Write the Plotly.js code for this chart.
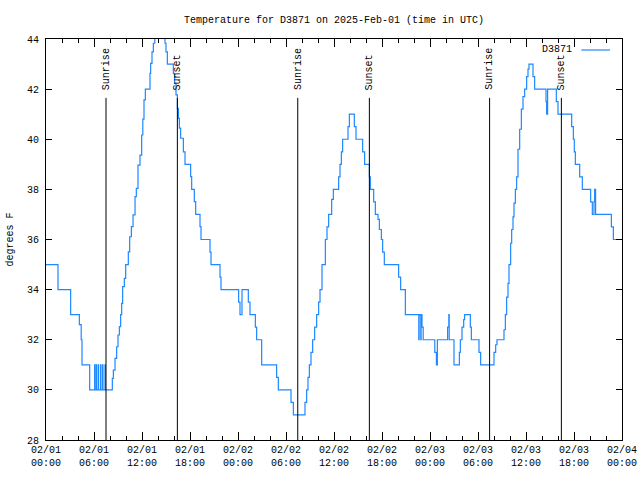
<!DOCTYPE html>
<html>
<head>
<meta charset="utf-8">
<script src="https://cdn.plot.ly/plotly-3.0.1.min.js"></script>
<style>html,body{margin:0;padding:0;background:#fff;}#chart{width:640px;height:480px;}</style>
</head>
<body>
<div id="chart"></div>
<script>
// Hours since 2025-02-01 00:00 UTC at which the reading changed
var hours = [0,1.5,3.08,4.17,4.4,4.5,5.46,6.08,6.12,6.29,6.33,6.54,6.58,6.83,6.87,7.08,7.12,7.375,7.42,
  8.29,8.42,8.63,8.83,9.0,9.17,9.33,9.46,9.58,9.79,9.96,10.29,10.46,10.67,10.88,11.13,11.29,11.5,11.75,11.96,
  12.1,12.25,12.42,13.0,13.08,13.25,13.42,13.6,14.875,15.0,15.17,15.92,16.08,16.25,16.42,16.55,16.67,16.83,
  17.17,17.375,18.08,18.21,18.54,18.71,19.25,19.375,20.5,20.625,21.75,21.875,
  24.08,24.25,24.5,25.29,25.5,26.17,26.33,26.96,28.83,29.04,30.625,30.92,32.375,32.58,32.75,32.92,33.125,33.33,
  33.58,33.83,34.08,34.25,34.5,34.92,35.125,35.33,35.71,35.92,36.58,36.75,36.92,37.08,37.75,37.92,38.54,38.75,
  39.58,39.83,40.42,40.54,40.96,41.17,41.5,41.67,41.92,42.08,42.29,44.08,44.33,44.92,46.6,46.64,46.85,46.89,47.0,
  47.15,48.6,48.8,48.92,50.2,50.35,50.4,51.0,51.67,51.79,52.0,52.21,52.33,53.04,53.17,54.125,54.33,56.0,56.21,
  56.375,57.25,57.42,57.58,57.75,57.875,58.08,58.21,58.375,58.5,58.67,58.83,59.0,59.21,59.42,59.625,59.83,60.08,
  60.25,60.375,60.875,61.08,62.5,62.58,62.7,63.79,64.0,65.71,65.92,66.04,66.17,66.71,67.04,68.08,68.29,68.5,
  68.58,68.7,70.67,70.92,72.0];
// Temperature (degrees F) from that moment on
var tempF = [35,34,33,32.6,32,31,30,31,30,31,30,31,30,31,30,31,30,31,30,
  30.46,30.79,31.26,31.72,32.19,32.52,33.0,33.45,34.12,34.45,35.0,35.51,36.11,36.51,36.98,37.71,38.04,38.97,39.37,40.17,
  40.8,41.57,42.0,42.63,43.03,43.49,43.83,44.3,43.83,43.49,43.0,42.63,42.23,41.77,41.23,40.83,40.44,40.04,
  39.5,39.0,38.51,38.0,37.51,37.0,36.51,36.0,35.5,35.0,34.5,34.0,
  33.5,33.0,34.0,33.5,33.0,32.5,32.0,31.0,30.5,30.0,29.5,29.0,29.5,30.0,30.5,31.0,31.5,32.0,
  32.5,33.0,33.5,34.0,35.0,36.0,36.5,37.0,37.6,38.0,38.5,39.0,39.5,40.0,40.5,41.0,40.5,40.0,
  39.5,39.0,38.5,38.0,37.5,37.0,36.8,36.4,36.0,35.5,35.0,34.5,34.0,33.0,32.0,33.0,32.0,33.0,32.5,
  32.0,31.5,31.0,32.0,32.5,33.0,32.0,31.0,31.5,32.0,32.5,32.8,33.0,32.5,32.0,31.5,31.0,31.5,31.8,
  32.0,32.4,33.0,33.7,34.25,35.0,35.85,36.4,36.9,37.45,38.0,38.5,39.6,40.4,41.2,41.7,42.0,42.5,
  42.8,43.0,42.5,42.0,41.5,41.0,42.0,41.5,41.0,40.5,40.0,39.5,39.0,38.5,38.0,37.5,37.0,37.5,
  38.0,37.0,36.5,36.0,36.0];
var sunriseHours = [7.5, 31.47, 55.45];
var sunsetHours = [16.42, 40.42, 64.42];
var xTickHours = [0,6,12,18,24,30,36,42,48,54,60,66,72];
var xTickLabels = ["02/01<br>00:00","02/01<br>06:00","02/01<br>12:00","02/01<br>18:00",
  "02/02<br>00:00","02/02<br>06:00","02/02<br>12:00","02/02<br>18:00",
  "02/03<br>00:00","02/03<br>06:00","02/03<br>12:00","02/03<br>18:00","02/04<br>00:00"];
var seriesName = "D3871";
var titleText = "Temperature for D3871 on 2025-Feb-01 (time in UTC)";

var FONT = "Liberation Mono, DejaVu Sans Mono, monospace";
var minorVals = [];
for (var m = 0; m <= 72; m += 2) { if (m % 6 !== 0) minorVals.push(m); }

var shapes = [], annotations = [];
function sunMark(h, label) {
  shapes.push({type:'line', xref:'x', yref:'y', x0:h, x1:h, y0:28, y1:41.65,
    line:{color:'#000', width:1}});
  annotations.push({xref:'x', yref:'y', x:h, y:41.88, text:label, showarrow:false,
    textangle:-90, xanchor:'center', yanchor:'bottom',
    font:{family:FONT, size:10, color:'#000'}});
}
sunriseHours.forEach(function(h){ sunMark(h, 'Sunrise'); });
sunsetHours.forEach(function(h){ sunMark(h, 'Sunset'); });

// gnuplot-style key: text then line sample
annotations.push({xref:'paper', yref:'paper', x:0.9167, y:0.9726, text:seriesName, showarrow:false,
  xanchor:'right', yanchor:'middle', font:{family:FONT, size:10, color:'#000'}});
shapes.push({type:'line', xref:'paper', yref:'paper', x0:0.9294, x1:0.9792, y0:0.9726, y1:0.9726,
  line:{color:'#1E88FF', width:1.2}});
// y-axis title
annotations.push({xref:'paper', yref:'paper', x:-0.0625, y:0.5, text:'degrees F', showarrow:false,
  textangle:-90, xanchor:'center', yanchor:'middle', font:{family:FONT, size:10, color:'#000'}});

var trace = {x:hours, y:tempF, type:'scatter', mode:'lines', name:seriesName,
  line:{color:'#1E88FF', width:1.2, shape:'hv'}, showlegend:false, hoverinfo:'none'};

var layout = {
  width:640, height:480,
  margin:{l:46, r:18, t:39, b:40, pad:0},
  paper_bgcolor:'#fff', plot_bgcolor:'#fff',
  font:{family:FONT, size:10, color:'#000'},
  title:{text:titleText, x:334/640, xref:'container', xanchor:'center', y:1-19/480, yref:'container', yanchor:'middle',
    font:{family:FONT, size:10, color:'#000'}},
  showlegend:false,
  xaxis:{range:[0,72], tickmode:'array', tickvals:xTickHours, ticktext:xTickLabels,
    ticks:'inside', ticklen:8, tickwidth:1, tickcolor:'#000', mirror:'allticks',
    showline:true, linecolor:'#000', linewidth:1, showgrid:false, zeroline:false,
    tickfont:{family:FONT, size:10, color:'#000'},
    minor:{tickmode:'array', tickvals:minorVals, ticks:'inside', ticklen:4, tickcolor:'#000', tickwidth:1, showgrid:false}},
  yaxis:{range:[28,44], tick0:28, dtick:2, ticks:'inside', ticklen:6, tickwidth:1, tickcolor:'#000',
    mirror:'allticks', showline:true, linecolor:'#000', linewidth:1, showgrid:false, zeroline:false,
    ticklabelstandoff:4,
    tickfont:{family:FONT, size:10, color:'#000'}},
  shapes:shapes, annotations:annotations
};
Plotly.newPlot('chart', [trace], layout, {staticPlot:true, displayModeBar:false});
</script>
</body>
</html>
